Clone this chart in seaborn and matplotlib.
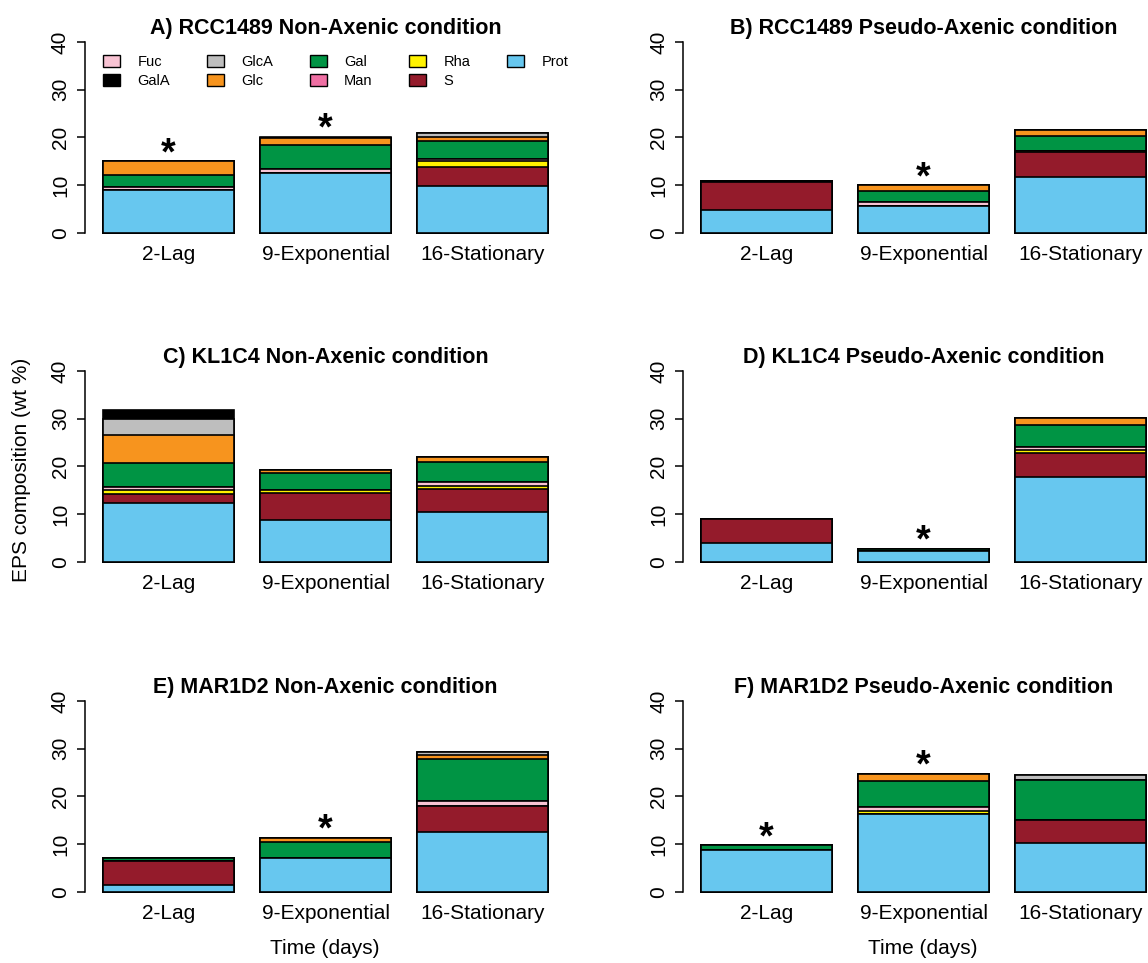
import pandas as pd
import matplotlib.pyplot as plt
import seaborn as sns
from matplotlib.patches import Patch

sns.set_style('white')
plt.rcParams['font.family'] = ['Liberation Sans', 'DejaVu Sans']
plt.rcParams['text.color'] = 'black'
plt.rcParams['axes.labelcolor'] = 'black'
plt.rcParams['xtick.color'] = 'black'
plt.rcParams['ytick.color'] = 'black'

phases = ['2-Lag', '9-Exponential', '16-Stationary']
panels = ['A', 'B', 'C', 'D', 'E', 'F']
titles = ['A) RCC1489 Non-Axenic condition', 'B) RCC1489 Pseudo-Axenic condition',
          'C) KL1C4 Non-Axenic condition', 'D) KL1C4 Pseudo-Axenic condition',
          'E) MAR1D2 Non-Axenic condition', 'F) MAR1D2 Pseudo-Axenic condition']

# values in wt %, panels A..F, each with the 3 phases
prot = [8.9, 12.5, 9.9, 4.8, 5.7, 11.7, 12.4, 8.7, 10.4, 3.9, 2.2, 17.9, 1.5, 7.2, 12.5, 8.7, 16.4, 10.2]
s    = [0, 0, 4.0, 5.8, 0, 5.2, 1.9, 5.7, 4.9, 5.1, 0, 4.9, 4.9, 0, 5.6, 0, 0, 4.8]
rha  = [0, 0, 1.1, 0, 0, 0.3, 0.7, 0.7, 0.7, 0, 0, 0.6, 0, 0, 0, 0, 0.6, 0]
fuc  = [0.7, 1.0, 0.5, 0, 0.7, 0, 0.8, 0, 0.7, 0, 0, 0.6, 0, 0, 0.9, 0, 0.8, 0]
man  = [0, 0, 0, 0, 0, 0, 0, 0, 0, 0, 0, 0, 0, 0, 0, 0, 0, 0]
gal  = [2.5, 4.9, 3.8, 0.2, 2.4, 3.1, 4.9, 3.5, 4.3, 0, 0.6, 4.7, 0.7, 3.2, 8.8, 1.2, 5.5, 8.5]
glc  = [2.9, 1.5, 0.9, 0, 1.2, 1.3, 6.0, 0.7, 1.0, 0, 0, 1.4, 0, 1.0, 0.8, 0, 1.5, 0]
glca = [0, 0, 0.8, 0, 0, 0, 3.3, 0, 0, 0, 0, 0, 0, 0, 0.8, 0, 0, 1.0]
gala = [0, 0.3, 0, 0, 0, 0, 1.8, 0, 0, 0, 0, 0, 0, 0, 0, 0, 0, 0]
star = [1, 1, 0, 0, 1, 0, 0, 0, 0, 0, 1, 0, 0, 1, 0, 1, 1, 0]

stack = ['Prot', 'S', 'Rha', 'Fuc', 'Man', 'Gal', 'Glc', 'GlcA', 'GalA']
colors = {'Fuc': '#F8C3D3', 'GalA': '#000000', 'GlcA': '#BEBEBE', 'Glc': '#F7941E',
          'Gal': '#009444', 'Man': '#EF6FA3', 'Rha': '#FFF200', 'S': '#941B2B',
          'Prot': '#67C7EF'}
legend_order = ['Fuc', 'GalA', 'GlcA', 'Glc', 'Gal', 'Man', 'Rha', 'S', 'Prot']

df = pd.DataFrame({'panel': [p for p in panels for _ in phases],
                   'phase': phases * len(panels),
                   'Prot': prot, 'S': s, 'Rha': rha, 'Fuc': fuc, 'Man': man,
                   'Gal': gal, 'Glc': glc, 'GlcA': glca, 'GalA': gala, 'star': star})

W, H = 1148, 963
fig = plt.figure(figsize=(W / 100, H / 100), dpi=100)

col_x = [85, 683]
row_top = [34.4, 363.4, 693.4]
ax_w, ax_h = 481, 206.2

axes = []
for i, p in enumerate(panels):
    r, c = divmod(i, 2)
    ax = fig.add_axes([col_x[c] / W, 1 - (row_top[r] + ax_h) / H, ax_w / W, ax_h / H])
    axes.append(ax)
    sub = df[df['panel'] == p].set_index('phase').loc[phases]
    cum = sub[stack].cumsum(axis=1)
    # draw cumulative heights from the top layer down so lower layers cover them
    for comp in reversed(stack):
        d = pd.DataFrame({'phase': phases, 'h': cum[comp].values})
        sns.barplot(data=d, x='phase', y='h', order=phases, color=colors[comp],
                    saturation=1, edgecolor='black', linewidth=1.2, width=0.833,
                    errorbar=None, ax=ax)
    totals = cum['GalA'].values
    for j, ph in enumerate(phases):
        if sub.loc[ph, 'star']:
            ax.text(j, totals[j] - 0.7, '*', ha='center', va='baseline',
                    fontsize=27, fontweight='bold', color='black')
    ax.set_xlim(-0.53, 2.53)
    ax.set_ylim(-1.6, 41.6)
    ax.set_yticks([0, 10, 20, 30, 40])
    ax.set_xlabel('')
    ax.set_ylabel('')
    for sp in ['top', 'right', 'bottom']:
        ax.spines[sp].set_visible(False)
    ax.spines['left'].set_bounds(0, 40)
    ax.spines['left'].set_linewidth(1.1)
    ax.spines['left'].set_color('black')
    ax.tick_params(axis='y', length=5.8, width=1.1, colors='black', labelsize=15,
                   labelrotation=90, pad=5, left=True)
    for lab in ax.get_yticklabels():
        lab.set_va('center')
    ax.tick_params(axis='x', length=0, labelsize=15, pad=3, colors='black')
    ax.set_title(titles[i], fontsize=15.5, fontweight='bold', pad=0.5, color='black')

handles = [Patch(facecolor=colors[k], edgecolor='black', linewidth=1) for k in legend_order]
axes[0].legend(handles, legend_order, ncol=5, loc='upper left',
               bbox_to_anchor=(103 / W, 1 - 55 / H), bbox_transform=fig.transFigure,
               frameon=False, fontsize=10.5, handlelength=1.17, handleheight=0.82,
               handletextpad=1.2, columnspacing=2.5, borderpad=0, borderaxespad=0,
               labelspacing=0.35, labelcolor='black')

fig.text(22 / W, 1 - 470 / H, 'EPS composition (wt %)', rotation=90, ha='center',
         va='center', fontsize=15, color='black')
fig.text((85 + 240) / W, 1 - 948 / H, 'Time (days)', ha='center', va='center',
         fontsize=15, color='black')
fig.text((683 + 240) / W, 1 - 948 / H, 'Time (days)', ha='center', va='center',
         fontsize=15, color='black')

fig.savefig('out.png', dpi=100)
